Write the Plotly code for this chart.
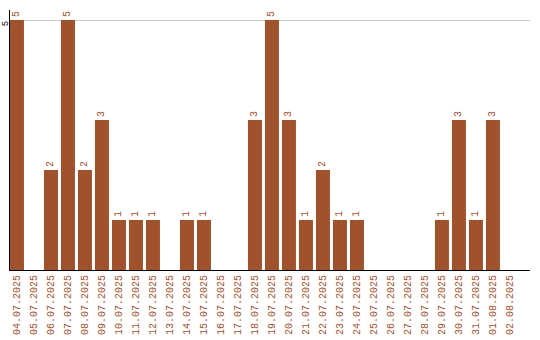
import plotly.graph_objects as go

dates = ["04.07.2025","05.07.2025","06.07.2025","07.07.2025","08.07.2025","09.07.2025",
         "10.07.2025","11.07.2025","12.07.2025","13.07.2025","14.07.2025","15.07.2025",
         "16.07.2025","17.07.2025","18.07.2025","19.07.2025","20.07.2025","21.07.2025",
         "22.07.2025","23.07.2025","24.07.2025","25.07.2025","26.07.2025","27.07.2025",
         "28.07.2025","29.07.2025","30.07.2025","31.07.2025","01.08.2025","02.08.2025"]
counts = [5,0,2,5,2,3,1,1,1,0,1,1,0,0,3,5,3,1,2,1,1,0,0,0,0,1,3,1,3,0]

labels = [str(v) if v > 0 else "" for v in counts]
idx = list(range(len(dates)))

fig = go.Figure(go.Bar(
    x=idx, y=counts, text=labels, textposition="outside", textangle=-90,
    marker=dict(color="#a0522d", line=dict(width=0)), width=14/17,
    textfont=dict(color="#a0522d", size=10, family="Liberation Mono"),
    cliponaxis=False,
))
fig.update_layout(
    width=540, height=340, margin=dict(l=10, r=10, t=10, b=70),
    plot_bgcolor="white", paper_bgcolor="white", showlegend=False,
    xaxis=dict(range=[-0.41, 30.18], tickvals=idx, ticktext=dates, tickangle=-90,
               showline=True, linecolor="black", linewidth=1, showgrid=False,
               ticks="", tickfont=dict(color="#a0522d", size=10, family="Liberation Mono"),
               zeroline=False, automargin=False),
    yaxis=dict(range=[0, 5.2], tickvals=[5], ticktext=["5"], tickangle=-90,
               showline=True, linecolor="black", linewidth=1, showgrid=True,
               gridcolor="#cccccc", zeroline=False, ticks="", automargin=False,
               ticklabelstandoff=-3, ticklabelshift=5,
               tickfont=dict(color="black", size=9, family="Liberation Mono")),
)
fig.write_html("out.html")
